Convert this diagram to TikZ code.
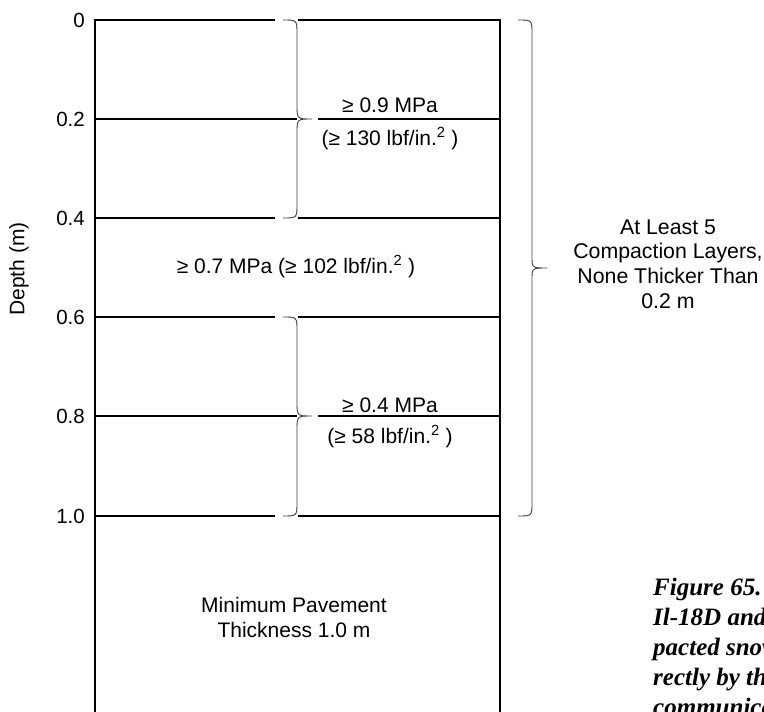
\documentclass[tikz,border=0pt]{standalone}
\usepackage{fontspec}
\setmainfont{Liberation Sans}
\newfontfamily\capfont{Liberation Serif}
\begin{document}
\begin{tikzpicture}[x=1pt,y=-1pt,
  mainline/.style={line width=1.3pt,black,line join=miter},
  bracepath/.style={line width=0.9pt,black!75},
  lbl/.style={inner sep=0pt,font=\fontsize{21}{22}\selectfont},
  dlbl/.style={inner sep=0pt,anchor=base east,font=\fontsize{20.5}{22}\selectfont},
  capt/.style={inner sep=0pt,anchor=base west,align=left,font=\capfont\bfseries\itshape\fontsize{25}{30}\selectfont}]
\useasboundingbox (0,0) rectangle (764,712);
\clip (0,0) rectangle (764,712);
% column outline and layer lines
\draw[mainline] (95,712) -- (95,20) -- (275,20);
\draw[mainline] (298,20) -- (500,20) -- (500,712);
\draw[mainline] (95,119) -- (297,119);
\draw[mainline] (318,119) -- (500,119);
\draw[mainline] (95,218) -- (275,218);
\draw[mainline] (298,218) -- (500,218);
\draw[mainline] (95,317) -- (275,317);
\draw[mainline] (298,317) -- (500,317);
\draw[mainline] (95,416) -- (297,416);
\draw[mainline] (318,416) -- (500,416);
\draw[mainline] (95,516) -- (275,516);
\draw[mainline] (298,516) -- (500,516);
% braces
\draw[bracepath] (283,20) .. controls (297,20) .. (297,34) -- (297,105) .. controls (297,119) .. (312,119) .. controls (297,119) .. (297,133) -- (297,204) .. controls (297,218) .. (283,218);
\draw[bracepath] (283,317) .. controls (297,317) .. (297,331) -- (297,402) .. controls (297,416) .. (312,416) .. controls (297,416) .. (297,430) -- (297,502) .. controls (297,516) .. (283,516);
\draw[bracepath] (518,20) .. controls (532,20) .. (532,34) -- (532,256) .. controls (532,268) .. (547,268) .. controls (532,268) .. (532,280) -- (532,502) .. controls (532,516) .. (518,516);
% depth labels
\node[dlbl] (d0) at (85,27.5) {0};
\node[dlbl] (d2) at (85,126.5) {0.2};
\node[dlbl] (d4) at (85,225.5) {0.4};
\node[dlbl] (d6) at (85,324.5) {0.6};
\node[dlbl] (d8) at (85,423.5) {0.8};
\node[dlbl] (d10) at (85,523.5) {1.0};
\node[lbl,rotate=90] (depth) at (19,269) {Depth (m)};
% pressure labels
\node[lbl,anchor=base] (p9) at (390,112) {≥ 0.9 MPa};
\node[lbl,anchor=base] (p9b) at (390,145) {(≥ 130 lbf/in.\textsuperscript{2} )};
\node[lbl,anchor=base] (p7) at (296,273) {≥ 0.7 MPa (≥ 102 lbf/in.\textsuperscript{2} )};
\node[lbl,anchor=base] (p4) at (390,412) {≥ 0.4 MPa};
\node[lbl,anchor=base] (p4b) at (390,443) {(≥ 58 lbf/in.\textsuperscript{2} )};
% notes (anchor base = baseline of last line)
\node[lbl,align=center,anchor=base,font=\fontsize{21.3}{24.6}\selectfont] (layers) at (668,308) {At Least 5\\Compaction Layers,\\None Thicker Than\\0.2 m};
\node[lbl,align=center,anchor=base,font=\fontsize{21}{25}\selectfont] (minp) at (294,637) {Minimum Pavement\\Thickness 1.0 m};
% caption (clipped at page edge)
\node[capt] (cap) at (653,715) {Figure 65.\\Il-18D and\\pacted snow\\rectly by the\\communication};
\end{tikzpicture}
\end{document}
